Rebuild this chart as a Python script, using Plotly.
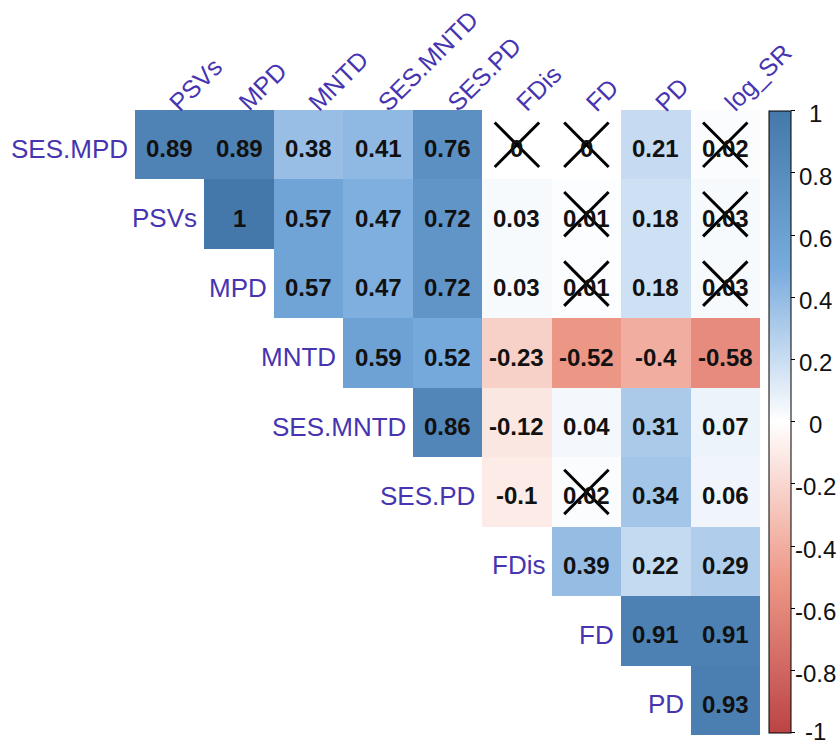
import plotly.graph_objects as go
import numpy as np

row_labels = ["SES.MPD", "PSVs", "MPD", "MNTD", "SES.MNTD", "SES.PD", "FDis", "FD", "PD"]
col_labels = ["PSVs", "MPD", "MNTD", "SES.MNTD", "SES.PD", "FDis", "FD", "PD", "log_SR"]

# upper-triangle correlations, row by row (starting at the diagonal column)
r_ses_mpd = [0.89, 0.89, 0.38, 0.41, 0.76, 0, 0, 0.21, 0.02]
r_psvs = [1, 0.57, 0.47, 0.72, 0.03, 0.01, 0.18, 0.03]
r_mpd = [0.57, 0.47, 0.72, 0.03, 0.01, 0.18, 0.03]
r_mntd = [0.59, 0.52, -0.23, -0.52, -0.4, -0.58]
r_ses_mntd = [0.86, -0.12, 0.04, 0.31, 0.07]
r_ses_pd = [-0.1, 0.02, 0.34, 0.06]
r_fdis = [0.39, 0.22, 0.29]
r_fd = [0.91, 0.91]
r_pd = [0.93]
rows_values = [r_ses_mpd, r_psvs, r_mpd, r_mntd, r_ses_mntd, r_ses_pd, r_fdis, r_fd, r_pd]

# non-significant cells (row label, column label)
insignificant = [("SES.MPD", "FDis"), ("SES.MPD", "FD"), ("SES.MPD", "log_SR"),
                 ("PSVs", "FD"), ("PSVs", "log_SR"),
                 ("MPD", "FD"), ("MPD", "log_SR"),
                 ("SES.PD", "FD")]

cbar_vals = [1, 0.8, 0.6, 0.4, 0.2, 0, -0.2, -0.4, -0.6, -0.8, -1]
cbar_text = ["1", "0.8", "0.6", "0.4", "0.2", "0", "-0.2", "-0.4", "-0.6", "-0.8", "-1"]

n = len(row_labels)
z = np.full((n, n), np.nan)
for i, vals in enumerate(rows_values):
    for k, v in enumerate(vals):
        z[i, i + k] = v

colorscale = [[0.0, "#BB4444"], [0.25, "#EE9988"], [0.5, "#FFFFFF"], [0.75, "#77AADD"], [1.0, "#4477AA"]]

LAB = "#4634B0"
FONT = "Liberation Sans, Arial, sans-serif"

W, H = 840, 746
GL, GR, GT, GB = 135, 760.5, 110, 735.5
PW = GR - GL
PH = GB - GT

# colorbar geometry (pixels)
CB_TOP, CB_BOT, CB_LEFT = 111, 733, 770
CB_LEN = CB_BOT - CB_TOP

fig = go.Figure()
fig.add_trace(go.Heatmap(
    z=z, x=list(range(n)), y=list(range(n)),
    zmin=-1, zmax=1, colorscale=colorscale, hoverinfo="skip",
    colorbar=dict(
        x=(CB_LEFT - GL) / PW, xanchor="left", xpad=0, ypad=0,
        y=(GB - (CB_TOP + CB_BOT) / 2) / PH, yanchor="middle",
        len=CB_LEN / PH, lenmode="fraction",
        thickness=22, thicknessmode="pixels",
        outlinewidth=1, outlinecolor="black",
        tickvals=cbar_vals, ticks="outside", showticklabels=False,
        ticklen=4, tickcolor="black", tickwidth=1,
    ),
))

annotations = []
for i, vals in enumerate(rows_values):
    for k, v in enumerate(vals):
        j = i + k
        annotations.append(dict(x=j, y=i, xref="x", yref="y", text=f"<b>{v:g}</b>",
                                showarrow=False, font=dict(family=FONT, size=24, color="#111111"),
                                yshift=-4))
# row labels
for i, lab in enumerate(row_labels):
    annotations.append(dict(x=i - 0.5, y=i, xref="x", yref="y", text=lab, showarrow=False,
                            xanchor="right", xshift=-5, yshift=-4,
                            font=dict(family=FONT, size=26, color=LAB)))
# column labels
for j, lab in enumerate(col_labels):
    annotations.append(dict(x=j, y=1, xref="x", yref="paper", text=lab, showarrow=False,
                            xanchor="left", yanchor="bottom", textangle=-45,
                            xshift=-9, yshift=-9,
                            font=dict(family=FONT, size=25, color=LAB)))
# colorbar tick labels (centred, as in corrplot)
for v, t in zip(cbar_vals, cbar_text):
    ypix = CB_BOT - (v + 1) / 2 * CB_LEN
    annotations.append(dict(x=(816.5 - GL) / PW, y=(GB - ypix) / PH, xref="paper", yref="paper",
                            text=t, showarrow=False, xanchor="center", yanchor="middle",
                            yshift=-3 if v > -1 else 1,
                            font=dict(family=FONT, size=24, color="#111111")))

shapes = []
for rl, cl in insignificant:
    i = row_labels.index(rl)
    j = col_labels.index(cl)
    d = 0.32
    shapes.append(dict(type="line", x0=j - d, y0=i - d, x1=j + d, y1=i + d, xref="x", yref="y",
                       line=dict(color="black", width=3), layer="above"))
    shapes.append(dict(type="line", x0=j - d, y0=i + d, x1=j + d, y1=i - d, xref="x", yref="y",
                       line=dict(color="black", width=3), layer="above"))

fig.update_layout(
    width=W, height=H,
    margin=dict(l=GL, r=W - GR, t=GT, b=H - GB, autoexpand=False),
    paper_bgcolor="white", plot_bgcolor="white",
    xaxis=dict(range=[-0.5, n - 0.5], showticklabels=False, showgrid=False, zeroline=False, fixedrange=True),
    yaxis=dict(range=[n - 0.5, -0.5], showticklabels=False, showgrid=False, zeroline=False, fixedrange=True),
    annotations=annotations, shapes=shapes, showlegend=False,
)

fig.write_html("out.html", config={"displayModeBar": False},
               post_script="document.body.style.margin='0';document.body.style.overflow='hidden';")
